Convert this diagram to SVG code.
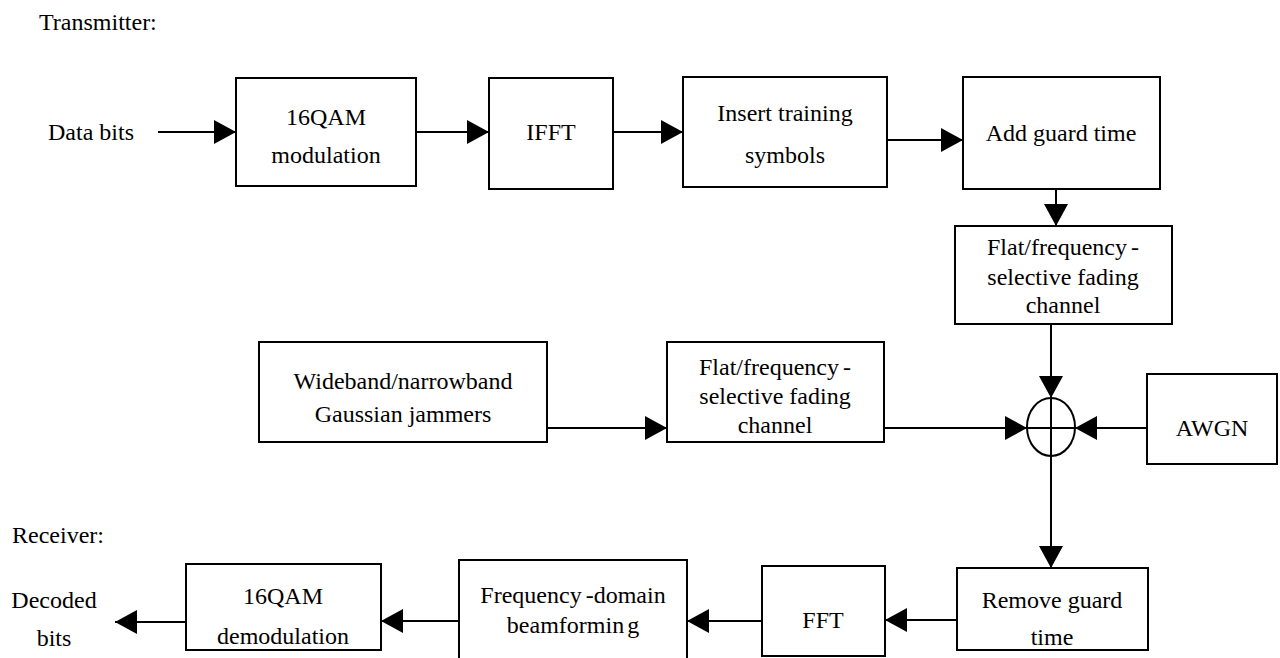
<svg xmlns="http://www.w3.org/2000/svg" width="1280" height="658" viewBox="0 0 1280 658">
<style>
  .box { fill: #fff; stroke: #000; stroke-width: 2; }
  .t { font-family: "Liberation Serif", "Times New Roman", serif; font-size: 24px; fill: #000; }
  .c { text-anchor: middle; }
  .ln { stroke: #000; stroke-width: 2; fill: none; }
</style>
<defs>
  <marker id="ah" markerUnits="userSpaceOnUse" markerWidth="22" markerHeight="24" refX="22" refY="12" orient="auto">
    <path d="M0,0 L22,12 L0,24 Z" fill="#000"/>
  </marker>
</defs>
<rect width="1280" height="658" fill="#fff"/>

<text class="t" x="39" y="30">Transmitter:</text>
<text class="t" x="12" y="543">Receiver:</text>

<g id="connectors">
  <line class="ln" x1="158" y1="132" x2="236" y2="132" marker-end="url(#ah)"/>
  <line class="ln" x1="416" y1="132" x2="489" y2="132" marker-end="url(#ah)"/>
  <line class="ln" x1="613" y1="132" x2="683" y2="132" marker-end="url(#ah)"/>
  <line class="ln" x1="887" y1="140" x2="963" y2="140" marker-end="url(#ah)"/>
  <line class="ln" x1="1056" y1="189" x2="1056" y2="226" marker-end="url(#ah)"/>
  <line class="ln" x1="1051" y1="324" x2="1051" y2="398" marker-end="url(#ah)"/>
  <line class="ln" x1="547" y1="428" x2="667" y2="428" marker-end="url(#ah)"/>
  <line class="ln" x1="884" y1="428" x2="1027" y2="428" marker-end="url(#ah)"/>
  <line class="ln" x1="1147" y1="428" x2="1075" y2="428" marker-end="url(#ah)"/>
  <line class="ln" x1="1051" y1="456" x2="1051" y2="568" marker-end="url(#ah)"/>
  <line class="ln" x1="957" y1="620" x2="885" y2="620" marker-end="url(#ah)"/>
  <line class="ln" x1="762" y1="621" x2="687" y2="621" marker-end="url(#ah)"/>
  <line class="ln" x1="459" y1="621" x2="381" y2="621" marker-end="url(#ah)"/>
  <line class="ln" x1="186" y1="622" x2="115" y2="622" marker-end="url(#ah)"/>
</g>

<g id="data-bits"><text class="t" x="48" y="140">Data bits</text></g>

<g id="qam-mod">
  <rect class="box" x="236" y="78" width="180" height="108"/>
  <text class="t c" x="326" y="125">16QAM</text>
  <text class="t c" x="326" y="163">modulation</text>
</g>

<g id="ifft">
  <rect class="box" x="489" y="78" width="124" height="111"/>
  <text class="t c" x="551" y="140">IFFT</text>
</g>

<g id="insert-training">
  <rect class="box" x="683" y="77" width="204" height="110"/>
  <text class="t c" x="785" y="121">Insert training</text>
  <text class="t c" x="785" y="163">symbols</text>
</g>

<g id="add-guard">
  <rect class="box" x="963" y="77" width="197" height="112"/>
  <text class="t c" x="1061" y="141">Add guard time</text>
</g>

<g id="channel-top">
  <rect class="box" x="955" y="226" width="217" height="98"/>
  <text class="t c" x="1063" y="255">Flat/frequency<tspan dx="4">-</tspan></text>
  <text class="t c" x="1063" y="285">selective fading</text>
  <text class="t c" x="1063" y="313">channel</text>
</g>

<g id="adder">
  <ellipse cx="1051" cy="427" rx="24" ry="29" fill="#fff" stroke="#000" stroke-width="2"/>
  <line class="ln" x1="1051" y1="398" x2="1051" y2="456"/>
  <line class="ln" x1="1027" y1="428" x2="1075" y2="428"/>
</g>

<g id="awgn">
  <rect class="box" x="1147" y="374" width="130" height="90"/>
  <text class="t c" x="1212" y="436">AWGN</text>
</g>

<g id="jammers">
  <rect class="box" x="259" y="342" width="288" height="100"/>
  <text class="t c" x="403" y="389">Wideband/narrowband</text>
  <text class="t c" x="403" y="422">Gaussian jammers</text>
</g>

<g id="channel-mid">
  <rect class="box" x="667" y="342" width="217" height="100"/>
  <text class="t c" x="775" y="375">Flat/frequency<tspan dx="4">-</tspan></text>
  <text class="t c" x="775" y="404">selective fading</text>
  <text class="t c" x="775" y="433">channel</text>
</g>

<g id="remove-guard">
  <rect class="box" x="957" y="568" width="191" height="82"/>
  <text class="t c" x="1052" y="608">Remove guard</text>
  <text class="t c" x="1052" y="645">time</text>
</g>

<g id="fft">
  <rect class="box" x="762" y="566" width="123" height="90"/>
  <text class="t c" x="823" y="628">FFT</text>
</g>

<g id="beamforming">
  <rect class="box" x="459" y="560" width="228" height="110"/>
  <text class="t c" x="573" y="603">Frequency<tspan dx="4">-</tspan>domain</text>
  <text class="t c" x="573" y="633">beamformin<tspan dx="3">g</tspan></text>
</g>

<g id="qam-demod">
  <rect class="box" x="186" y="564" width="195" height="86"/>
  <text class="t c" x="283" y="604">16QAM</text>
  <text class="t c" x="283" y="644">demodulation</text>
</g>

<g id="decoded-bits">
  <text class="t c" x="54" y="608">Decoded</text>
  <text class="t c" x="54" y="646">bits</text>
</g>
</svg>
